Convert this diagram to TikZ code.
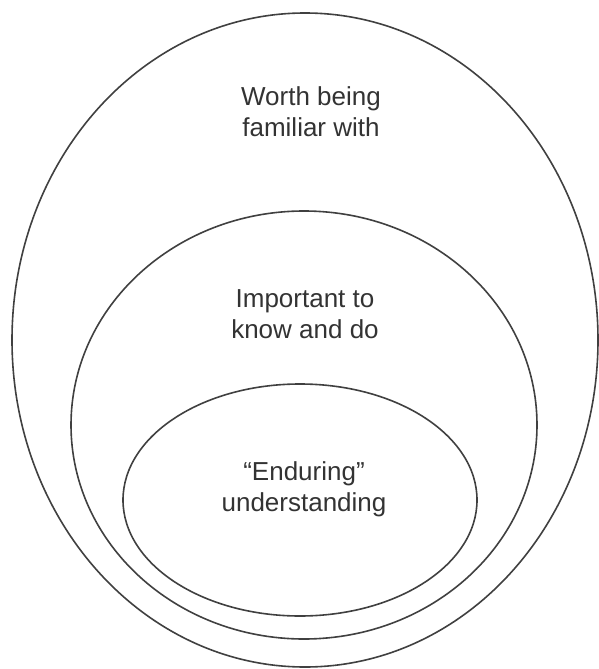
\documentclass[tikz,border=0pt]{standalone}
\usepackage{fontspec}
\setmainfont{Liberation Sans}
\begin{document}
\begin{tikzpicture}[x=1pt,y=-1pt]
\tikzset{ring/.style={draw=black!75, line width=1.6pt}, label/.style={align=center, text=black!80, font=\fontsize{26}{31}\selectfont}}
\useasboundingbox (0,0) rectangle (599,669);
\draw [ring] (305,340) ellipse (293 and 327);
\draw [ring] (304,425) ellipse (233 and 214);
\draw [ring] (300,500) ellipse (177 and 116);
\node[label] (worth) at (311,112) {Worth being\\familiar with};
\node[label] (important) at (305,314) {Important to\\know and do};
\node[label] (enduring) at (304,489) {``Enduring''\\understanding};
\end{tikzpicture}
\end{document}
